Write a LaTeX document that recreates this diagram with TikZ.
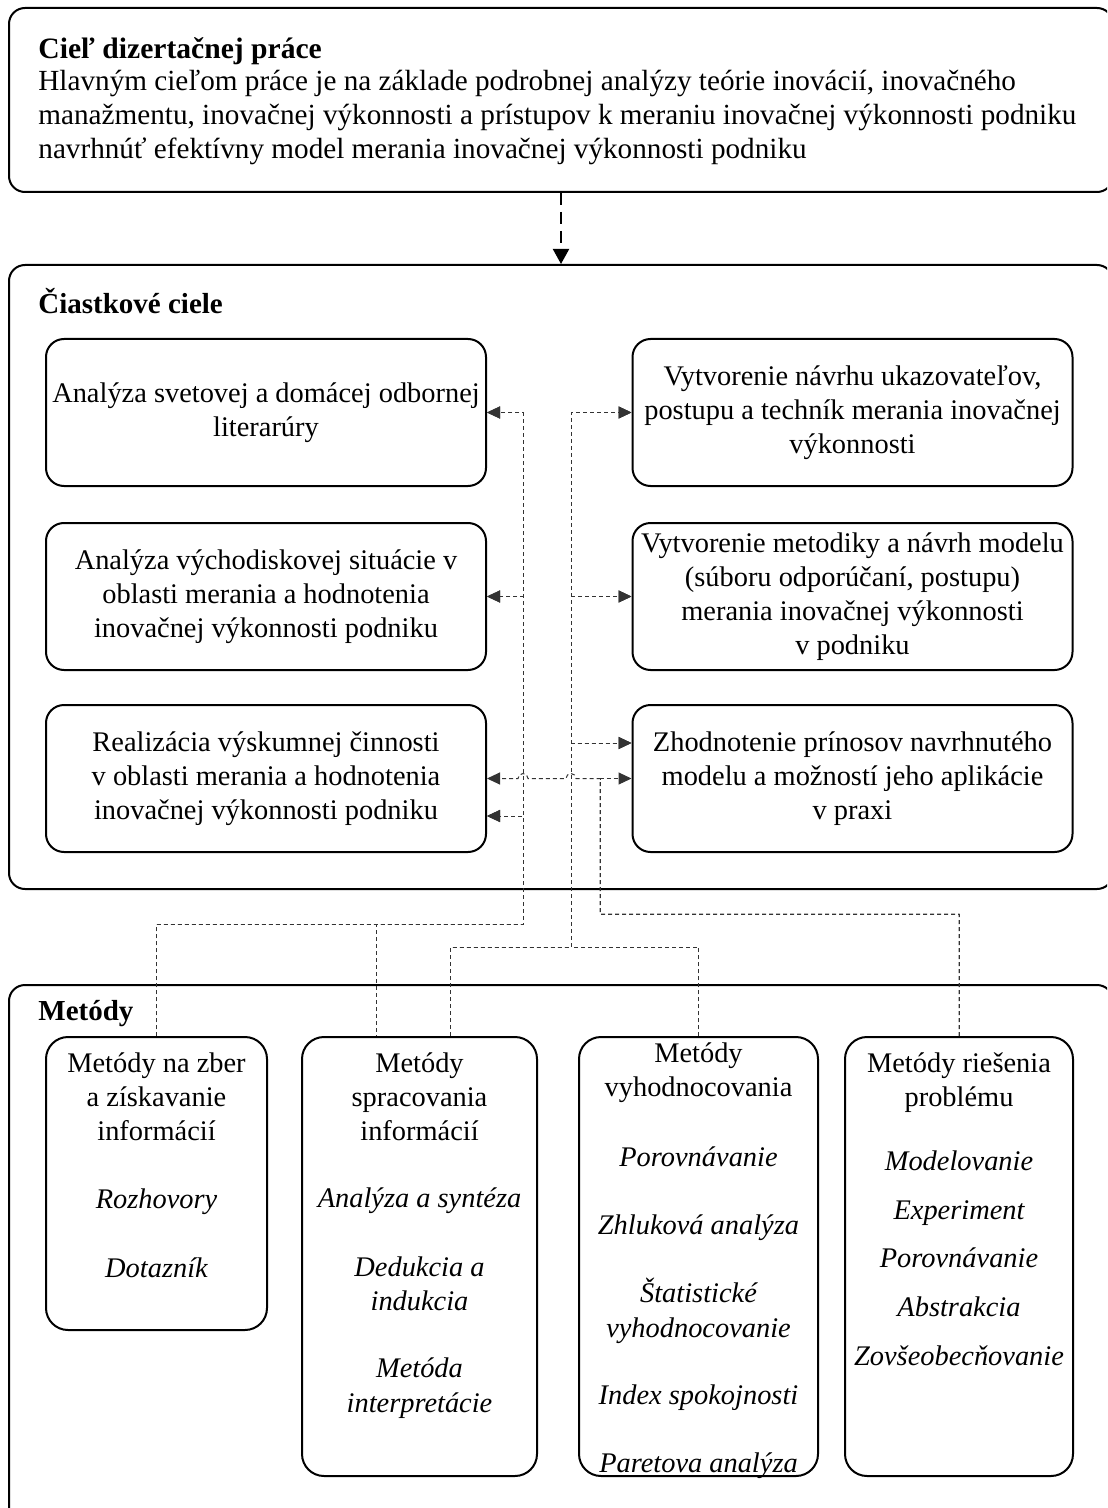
\documentclass[tikz,border=0pt]{standalone}
\usepackage{fontspec}
\setmainfont{Liberation Serif}
\usetikzlibrary{arrows.meta,calc}

\begin{document}
\begin{tikzpicture}[x=0.5pt,y=-0.5pt,
  every node/.style={font=\fontsize{14.2}{17}\selectfont},
  outerbox/.style={draw, line width=1pt, rounded corners=8pt, minimum width=552pt, inner sep=0pt},
  goalbox/.style={draw, line width=1pt, rounded corners=9pt, align=center,
                  minimum width=220pt, minimum height=73.5pt, inner sep=2pt},
  methbox/.style={draw, line width=1pt, rounded corners=11pt, minimum height=219.5pt, inner sep=0pt},
  conn/.style={draw=black!80, line width=0.5pt, dash pattern=on 2pt off 1.5pt,
               -{Triangle[length=6.5pt,width=6pt]}},
  mainarrow/.style={line width=1pt, dash pattern=on 6pt off 3.5pt,
                    -{Triangle[length=7.5pt,width=8pt]}},
  heading/.style={anchor=base west, inner sep=0pt, font=\fontsize{14.5}{17}\selectfont\bfseries},
  tline/.style={anchor=base west, inner sep=0pt, font=\fontsize{14.6}{17}\selectfont},
  mline/.style={anchor=base},
  mitem/.style={anchor=base, font=\fontsize{14.2}{17}\selectfont\itshape},
]
\useasboundingbox (0,0) rectangle (1107,1508);
\clip (0,0) rectangle (1107,1508);

% the three frames
\node[outerbox, minimum height=92pt] (goal) at (561,100) {};
\node[outerbox, minimum height=312pt] (sub) at (561,577) {};
\node[outerbox, minimum height=277.5pt] (meth) at (561,1262.5) {};

% main goal
\node[heading, font=\fontsize{14.8}{17}\selectfont\bfseries] (goalT) at (38,59) {Cieľ dizertačnej práce};
\foreach \y/\t [count=\i] in {
  91/{Hlavným cieľom práce je na základe podrobnej analýzy teórie inovácií, inovačného},
  125/{manažmentu, inovačnej výkonnosti a prístupov k meraniu inovačnej výkonnosti podniku},
  159/{navrhnúť efektívny model merania inovačnej výkonnosti podniku}}
  \node[tline] (goalL\i) at (38,\y) {\t};

\draw[mainarrow] (goal.south) -- (sub.north);

% partial goals
\node[heading] (subT) at (38,314) {Čiastkové ciele};
\node[goalbox] (L1) at (266,412.5) {Analýza svetovej a domácej odbornej\\literarúry};
\node[goalbox] (L2) at (266,596.5) {Analýza východiskovej situácie v\\oblasti merania a hodnotenia\\inovačnej výkonnosti podniku};
\node[goalbox] (L3) at (266,778.5) {Realizácia výskumnej činnosti\\v oblasti merania a hodnotenia\\inovačnej výkonnosti podniku};
\node[goalbox] (R1) at (852.5,412.5) {Vytvorenie návrhu ukazovateľov,\\postupu a techník merania inovačnej\\výkonnosti};
\node[goalbox] (R2) at (852.5,596.5) {Vytvorenie metodiky a návrh modelu\\(súboru odporúčaní, postupu)\\merania inovačnej výkonnosti\\v podniku};
\node[goalbox] (R3) at (852.5,778.5) {Zhodnotenie prínosov navrhnutého\\modelu a možností jeho aplikácie\\v praxi};

% methods
\node[heading] (methT) at (38,1020) {Metódy};
\node[methbox, minimum width=110.5pt, minimum height=146.5pt] (M1) at (156.5,1183.5) {};
\node[methbox, minimum width=117.5pt] (M2) at (419.5,1256.5) {};
\node[methbox, minimum width=119.5pt] (M3) at (698.5,1256.5) {};
\node[methbox, minimum width=114pt] (M4) at (959,1256.5) {};

\foreach \x/\y/\t [count=\i] in {
  156.5/1072/{Metódy na zber}, 156.5/1106/{a získavanie}, 156.5/1140/{informácií},
  419.5/1072/{Metódy}, 419.5/1106/{spracovania}, 419.5/1140/{informácií},
  698.5/1062/{Metódy}, 698.5/1096/{vyhodnocovania},
  959/1072/{Metódy riešenia}, 959/1106/{problému}}
  \node[mline] (mh\i) at (\x,\y) {\t};

\foreach \x/\y/\t [count=\i] in {
  156.5/1208/{Rozhovory}, 156.5/1277/{Dotazník},
  419.5/1207/{Analýza a syntéza}, 419.5/1276/{Dedukcia a}, 419.5/1310/{indukcia},
  419.5/1377/{Metóda}, 419.5/1412/{interpretácie},
  698.5/1166/{Porovnávanie}, 698.5/1234/{Zhluková analýza}, 698.5/1302/{Štatistické},
  698.5/1337/{vyhodnocovanie}, 698.5/1404/{Index spokojnosti}, 698.5/1472/{Paretova analýza},
  959/1170/{Modelovanie}, 959/1219/{Experiment}, 959/1267/{Porovnávanie},
  959/1316/{Abstrakcia}, 959/1365/{Zovšeobecňovanie}}
  \node[mitem] (mi\i) at (\x,\y) {\t};

% connector routing points
\coordinate (m2l) at ($(M2.north)+(-43.5,0)$);
\coordinate (m2r) at ($(M2.north)+(30.5,0)$);
\coordinate (L3in) at ($(L3.east)+(0,37.5)$);
\coordinate (R3in) at ($(R3.west)+(0,-35.5)$);
\coordinate (busL) at (523,924);
\coordinate (busR) at (571,947);
\coordinate (busP) at (600,914);
\coordinate (hopA) at (600,778.5);

% methods -> partial goals (dash phases keep shared segments in step)
\foreach \s/\ph in {M1.north/0pt,m2l/1.25pt}
  \foreach \t in {L1.east,L2.east,L3in}
    \draw[conn, dash phase=\ph] (\s) |- (busL) |- (\t);
\foreach \s/\ph in {m2r/3.25pt,M3.north/0pt}
  \foreach \t in {R1.west,R2.west,R3in}
    \draw[conn, dash phase=\ph] (\s) |- (busR) |- (\t);
\draw[conn] (M4.north) |- (busP) |- (R3.west);
\draw[conn] (M4.north) |- (busP) -- (hopA) -- (576,778.5)
  arc[start angle=0,end angle=180,radius=2.5pt] -- (528,778.5)
  arc[start angle=0,end angle=180,radius=2.5pt] -- (L3.east);
\end{tikzpicture}
\end{document}
